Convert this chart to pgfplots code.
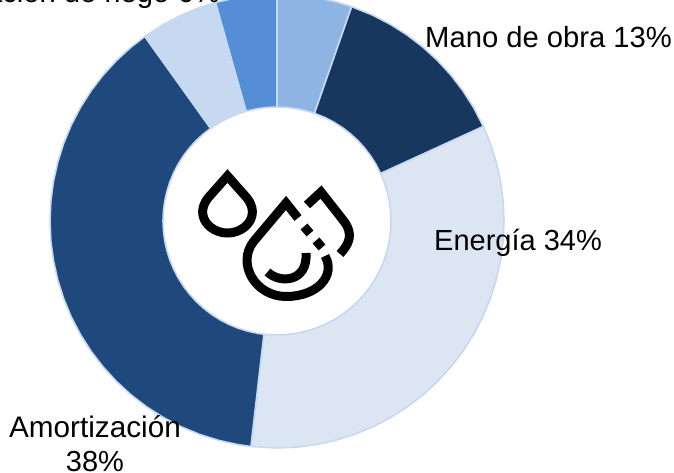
\documentclass[border=0pt]{standalone}
\usepackage{pgfplots}
\pgfplotsset{compat=1.18}
\usepackage{fontspec}
\setmainfont{Liberation Sans}
\definecolor{c1}{HTML}{8EB4E3}
\definecolor{c2}{HTML}{17375E}
\definecolor{c3}{HTML}{DCE6F2}
\definecolor{c4}{HTML}{1F497D}
\definecolor{c5}{HTML}{C6D9F1}
\definecolor{c6}{HTML}{558ED5}
\newcommand{\ringx}{277+\thisrow{r}*sin(\thisrow{a})}
\newcommand{\ringy}{251+\thisrow{r}*cos(\thisrow{a})}
\pgfplotsset{wedge/.style={draw=c5,line width=1.6pt,line join=round,fill=#1}}
\begin{document}
\begin{tikzpicture}[x=1pt,y=1pt]
\useasboundingbox (0,0) rectangle (674,472);
\clip (0,0) rectangle (674,472);
\begin{axis}[at={(0,0)},anchor=south west,scale only axis,width=674pt,height=472pt,
  xmin=0,xmax=674,ymin=0,ymax=472,hide axis,clip=true]
\addplot[wedge=c1] table[x expr=\ringx,y expr=\ringy,row sep=\\]{a r\\
0 227\\ 5 227\\ 10 227\\ 15 227\\ 19.2 227\\ 19.2 114\\ 15 114\\ 10 114\\ 5 114\\ 0 114\\ 0 227\\};
\addplot[wedge=c2] table[x expr=\ringx,y expr=\ringy,row sep=\\]{a r\\
19.2 227\\ 25 227\\ 30 227\\ 35 227\\ 40 227\\ 45 227\\ 50 227\\ 55 227\\ 60 227\\ 65.4 227\\ 65.4 114\\ 60 114\\ 55 114\\ 50 114\\ 45 114\\ 40 114\\ 35 114\\ 30 114\\ 25 114\\ 19.2 114\\ 19.2 227\\};
\addplot[wedge=c3] table[x expr=\ringx,y expr=\ringy,row sep=\\]{a r\\
65.4 227\\ 70 227\\ 75 227\\ 80 227\\ 85 227\\ 90 227\\ 95 227\\ 100 227\\ 105 227\\ 110 227\\ 115 227\\ 120 227\\ 125 227\\ 130 227\\ 135 227\\ 140 227\\ 145 227\\ 150 227\\ 155 227\\ 160 227\\ 165 227\\ 170 227\\ 175 227\\ 180 227\\ 186.6 227\\ 186.6 114\\ 180 114\\ 175 114\\ 170 114\\ 165 114\\ 160 114\\ 155 114\\ 150 114\\ 145 114\\ 140 114\\ 135 114\\ 130 114\\ 125 114\\ 120 114\\ 115 114\\ 110 114\\ 105 114\\ 100 114\\ 95 114\\ 90 114\\ 85 114\\ 80 114\\ 75 114\\ 70 114\\ 65.4 114\\ 65.4 227\\};
\addplot[wedge=c4] table[x expr=\ringx,y expr=\ringy,row sep=\\]{a r\\
186.6 227\\ 190 227\\ 195 227\\ 200 227\\ 205 227\\ 210 227\\ 215 227\\ 220 227\\ 225 227\\ 230 227\\ 235 227\\ 240 227\\ 245 227\\ 250 227\\ 255 227\\ 260 227\\ 265 227\\ 270 227\\ 275 227\\ 280 227\\ 285 227\\ 290 227\\ 295 227\\ 300 227\\ 305 227\\ 310 227\\ 315 227\\ 320 227\\ 324.4 227\\ 324.4 114\\ 320 114\\ 315 114\\ 310 114\\ 305 114\\ 300 114\\ 295 114\\ 290 114\\ 285 114\\ 280 114\\ 275 114\\ 270 114\\ 265 114\\ 260 114\\ 255 114\\ 250 114\\ 245 114\\ 240 114\\ 235 114\\ 230 114\\ 225 114\\ 220 114\\ 215 114\\ 210 114\\ 205 114\\ 200 114\\ 195 114\\ 190 114\\ 186.6 114\\ 186.6 227\\};
\addplot[wedge=c5] table[x expr=\ringx,y expr=\ringy,row sep=\\]{a r\\
324.4 227\\ 330 227\\ 335 227\\ 340 227\\ 344.3 227\\ 344.3 114\\ 340 114\\ 335 114\\ 330 114\\ 324.4 114\\ 324.4 227\\};
\addplot[wedge=c6] table[x expr=\ringx,y expr=\ringy,row sep=\\]{a r\\
344.3 227\\ 350 227\\ 355 227\\ 360 227\\ 360 114\\ 355 114\\ 350 114\\ 344.3 114\\ 344.3 227\\};
\end{axis}
\begin{scope}[shift={(0,472)},yscale=-1,line width=9pt,line cap=butt,line join=miter]
% left drop
\draw (227.5,176) -- (208,198) .. controls (194,216) and (210,233) .. (227.5,233) .. controls (245,233) and (261,216) .. (247,198) -- cycle;
% front drop
\draw (298,218) -- (286,203) -- (254,241) .. controls (236,263) and (255,296.5) .. (286,296.5) .. controls (318,296.5) and (336,275) .. (325,256);
\draw (304,226.5) -- (310,233.5);
\draw (316,240.5) -- (322,247.5);
\draw (267.5,272) .. controls (280,284) and (308,282) .. (306,253);
% back drop
\draw (307,205) -- (321,192) -- (343,220) .. controls (355,235) and (348,245) .. (340,254);
\end{scope}
\node[anchor=base west,inner sep=0pt] at (425,424) {\fontsize{29.2}{33}\selectfont Mano de obra 13\%};
\node[anchor=base west,inner sep=0pt] at (434,222) {\fontsize{29}{33}\selectfont Energía 34\%};
\node[anchor=base,inner sep=0pt] at (95,35) {\fontsize{29.7}{33}\selectfont Amortización};
\node[anchor=base,inner sep=0pt] at (95,1) {\fontsize{29}{33}\selectfont 38\%};
\node[anchor=base east,inner sep=0pt] at (220,469) {\fontsize{29.2}{33}\selectfont Operación de riego 6\%};
\end{tikzpicture}
\end{document}
